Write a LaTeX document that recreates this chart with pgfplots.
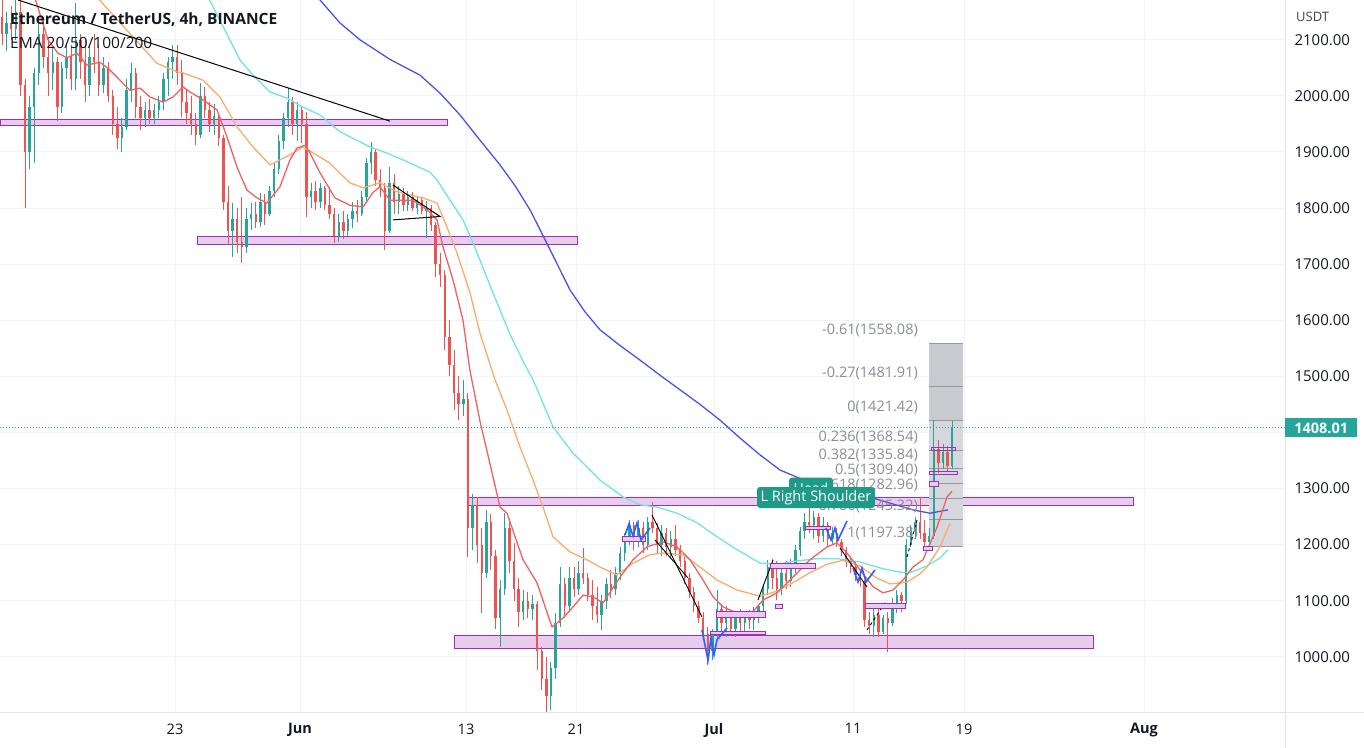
\documentclass[border=0pt]{standalone}
\usepackage{fontspec}
\setmainfont{Open Sans}
\usepackage{pgfplots}
\usepackage{pgfplotstable}
\pgfplotsset{compat=1.18}

\definecolor{tvup}{HTML}{26A69A}
\definecolor{tvdown}{HTML}{EF5350}
\definecolor{ema20}{HTML}{F0625F}
\definecolor{ema50}{HTML}{F7AC6B}
\definecolor{ema100}{HTML}{6EE3EC}
\definecolor{ema200}{HTML}{4E52E4}
\definecolor{zonefill}{HTML}{E8CCEE}
\definecolor{zoneline}{HTML}{A22DBB}
\definecolor{tvtext}{HTML}{131722}
\definecolor{fibtext}{HTML}{8A8D96}
\definecolor{fibline}{HTML}{9598A1}
\definecolor{tvgrid}{HTML}{F0F3FA}
\definecolor{tvaxis}{HTML}{E0E3EB}
\definecolor{tvblue}{HTML}{2962FF}
\definecolor{labelteal}{HTML}{1E9A87}

% 8h candles: i o h l c  (x on screen = 2 + 4.613 i)
\pgfplotstableread{
i o h l c
1 2110 2150 2080 2130
3 2120 2171 2100 2150
6 1900 2000 1870 1980
7 1980 2050 1880 2040
8 2040 2130 2020 2110
11 2040 2090 2010 2060
13 1980 2060 1970 2050
14 2050 2095 2030 2070
16 2030 2166 2010 2100
19 2020 2090 2000 2070
22 2020 2070 2005 2050
26 1925 1960 1900 1945
27 1945 2030 1940 2010
28 2010 2058 1990 2040
31 1960 1990 1945 1975
33 1960 1985 1950 1975
34 1975 2000 1960 1990
35 1990 2040 1975 2030
36 2030 2070 2000 2060
37 2060 2090 2030 2070
43 1930 2023 1925 2000
46 1950 1985 1930 1965
50 1760 1809 1713 1780
53 1730 1800 1720 1780
54 1780 1809 1761 1790
56 1775 1827 1766 1810
58 1790 1840 1785 1830
59 1830 1880 1820 1870
60 1870 1930 1860 1920
61 1920 1970 1905 1960
62 1960 2014 1945 1990
64 1950 1990 1920 1975
67 1820 1845 1800 1830
69 1810 1845 1800 1835
73 1750 1790 1740 1775
75 1760 1790 1750 1780
76 1780 1810 1765 1795
78 1790 1830 1785 1820
79 1820 1890 1810 1880
80 1880 1918 1860 1900
84 1760 1873 1755 1845
86 1810 1840 1790 1825
88 1805 1830 1795 1820
90 1800 1822 1790 1815
92 1795 1812 1747 1800
100 1450 1494 1430 1460
102 1230 1290 1190 1270
105 1150 1262 1140 1240
108 1070 1137 1018 1120
109 1120 1256 1110 1230
113 1080 1119 1066 1100
115 1085 1110 1066 1095
119 930 990 905 980
120 980 1078 960 1060
121 1060 1160 1053 1130
123 1090 1160 1080 1140
125 1120 1170 1110 1150
130 1075 1110 1048 1100
131 1100 1140 1085 1130
133 1120 1160 1110 1150
134 1150 1196 1137 1185
135 1185 1220 1170 1210
136 1210 1244 1200 1235
138 1205 1244 1195 1230
140 1200 1250 1190 1240
143 1200 1235 1180 1220
145 1195 1225 1175 1210
154 1010 1050 995 1040
155 1040 1119 1030 1085
157 1060 1090 1035 1075
159 1050 1080 1035 1070
161 1060 1080 1040 1075
163 1065 1089 1048 1080
164 1080 1095 1060 1090
165 1090 1130 1080 1120
166 1120 1173 1110 1160
169 1120 1165 1110 1150
171 1135 1175 1125 1165
172 1165 1200 1150 1190
173 1190 1232 1180 1225
174 1225 1256 1210 1240
176 1235 1260 1210 1250
178 1215 1250 1205 1235
180 1210 1232 1200 1220
189 1055 1089 1035 1075
191 1045 1075 1040 1070
193 1060 1105 1055 1095
194 1095 1119 1078 1110
196 1100 1210 1095 1200
197 1200 1235 1196 1225
198 1225 1249 1210 1240
201 1205 1230 1197 1215
202 1215 1422 1210 1370
204 1345 1380 1335 1365
206 1340 1421 1335 1408
}\upc

\pgfplotstableread{
i o h l c
0 2140 2171 2090 2110
2 2130 2160 2100 2120
4 2150 2171 2000 2020
5 2020 2030 1800 1900
9 2110 2135 2050 2070
10 2070 2100 2000 2040
12 2060 2070 1955 1980
15 2070 2090 2010 2030
17 2100 2110 2030 2060
18 2060 2100 1990 2020
20 2070 2110 2040 2060
21 2060 2090 2000 2020
23 2050 2060 1990 2000
24 2000 2010 1930 1950
25 1950 1980 1905 1925
29 2040 2050 1960 1980
30 1980 2000 1940 1960
32 1975 1995 1950 1960
38 2070 2091 2020 2040
39 2040 2064 1962 1990
40 1990 2010 1950 1970
41 1970 2000 1930 1950
42 1950 1970 1913 1930
44 2000 2015 1960 1975
45 1975 1990 1935 1950
47 1965 1970 1910 1925
48 1925 1930 1797 1810
49 1810 1840 1734 1760
51 1780 1800 1720 1740
52 1740 1820 1702 1730
55 1790 1810 1765 1775
57 1810 1825 1770 1790
63 1990 1998 1930 1950
65 1975 1980 1916 1950
66 1950 1971 1784 1820
68 1830 1848 1797 1810
70 1835 1840 1797 1805
71 1805 1838 1780 1790
72 1790 1800 1738 1750
74 1775 1795 1745 1760
77 1795 1815 1775 1790
81 1900 1905 1840 1850
82 1850 1870 1820 1835
83 1835 1845 1725 1760
85 1845 1860 1790 1810
87 1825 1835 1795 1805
89 1820 1828 1795 1800
91 1815 1820 1790 1795
93 1800 1805 1760 1770
94 1770 1775 1677 1700
95 1700 1720 1660 1680
96 1680 1690 1547 1570
97 1570 1600 1500 1520
98 1520 1547 1440 1470
99 1470 1500 1422 1450
101 1460 1470 1178 1230
103 1270 1285 1167 1200
104 1200 1230 1078 1150
106 1240 1255 1155 1180
107 1180 1190 1050 1070
110 1230 1240 1150 1170
111 1170 1203 1100 1120
112 1120 1140 1053 1080
114 1100 1115 1070 1085
116 1095 1100 977 1010
117 1010 1018 940 960
118 960 1000 880 930
122 1130 1140 1070 1090
124 1140 1160 1107 1120
126 1150 1194 1130 1140
127 1140 1150 1100 1110
128 1110 1137 1066 1090
129 1090 1125 1060 1075
132 1130 1155 1105 1120
137 1235 1240 1190 1205
139 1230 1240 1185 1200
141 1240 1276 1220 1230
142 1230 1239 1185 1200
144 1220 1230 1180 1195
146 1210 1235 1180 1190
147 1190 1200 1160 1170
148 1170 1180 1130 1140
149 1140 1150 1105 1115
150 1115 1125 1080 1090
151 1090 1100 1060 1070
152 1070 1080 1030 1040
153 1040 1053 985 1010
156 1085 1095 1040 1060
158 1075 1083 1040 1050
160 1070 1085 1045 1060
162 1075 1083 1050 1065
167 1160 1175 1120 1140
168 1140 1170 1101 1120
170 1150 1170 1120 1135
175 1240 1267 1220 1235
177 1250 1256 1203 1215
179 1235 1240 1196 1210
181 1220 1230 1196 1205
182 1205 1210 1180 1190
183 1190 1196 1160 1170
184 1170 1180 1150 1160
185 1160 1170 1135 1145
186 1145 1155 1125 1135
187 1135 1137 1053 1065
188 1065 1080 1040 1055
190 1075 1085 1035 1045
192 1070 1080 1009 1060
195 1110 1115 1080 1100
199 1240 1285 1210 1220
200 1220 1244 1190 1205
203 1370 1387 1328 1345
205 1365 1375 1330 1340
}\dnc

\pgfplotsset{
  candle/.style={only marks, mark=*, mark size=0pt, mark options={draw=none, fill=none}, forget plot,
    error bars/.cd, y dir=plus, y explicit, error mark=none,
    error bar style={line width=#1}},
}

\begin{document}
\begin{tikzpicture}[font=\fontsize{14bp}{16bp}\selectfont]
\useasboundingbox (0,-36bp) rectangle (1364bp,712bp);
\begin{axis}[
  at={(0,0)}, anchor=south west,
  scale only axis, width=1285bp, height=712bp,
  xmin=0, xmax=1285, ymin=901.6, ymax=2171,
  axis line style={draw=none},
  major tick length=0pt,
  grid=major, major grid style={draw=tvgrid, line width=1bp},
  ytick={1000,1100,...,2100},
  yticklabels={1000.00,1100.00,1200.00,1300.00,,1500.00,1600.00,1700.00,1800.00,1900.00,2000.00,2100.00},
  yticklabel pos=right,
  yticklabel style={anchor=west, xshift=6bp, text=tvtext,
    font=\fontsize{15bp}{17bp}\selectfont},
  xtick={175,300,466,576,714,853,964,1144},
  xticklabels={23,\textbf{Jun},13,21,\textbf{Jul},11,19,\textbf{Aug}},
  xticklabel style={yshift=-8bp, text=tvtext, font=\fontsize{14.5bp}{16bp}\selectfont},
]

% support / resistance zones
\draw[zoneline, fill=zonefill, line width=1bp] (axis cs:0,1946.4) rectangle (axis cs:447,1958.8);
\draw[zoneline, fill=zonefill, line width=1bp] (axis cs:197,1734.2) rectangle (axis cs:577,1748.5);
\draw[zoneline, fill=zonefill, line width=1bp] (axis cs:468,1268.9) rectangle (axis cs:1133,1284.9);
\draw[zoneline, fill=zonefill, line width=1bp] (axis cs:454,1015.7) rectangle (axis cs:1093,1037.1);

% fib box
\fill[fill={rgb,255:red,201;green,202;blue,208}] (axis cs:929,1421.42) rectangle (axis cs:963,1558.08);
\fill[fill={rgb,255:red,214;green,215;blue,220}] (axis cs:929,1197.38) rectangle (axis cs:963,1421.42);
\addplot[fibline, line width=1bp, forget plot] coordinates {(929,1558.08) (963,1558.08)};
\addplot[fibline, line width=1bp, forget plot] coordinates {(929,1481.91) (963,1481.91)};
\addplot[fibline, line width=1bp, forget plot] coordinates {(929,1421.42) (963,1421.42)};
\addplot[fibline, line width=1bp, forget plot] coordinates {(929,1368.54) (963,1368.54)};
\addplot[fibline, line width=1bp, forget plot] coordinates {(929,1335.84) (963,1335.84)};
\addplot[fibline, line width=1bp, forget plot] coordinates {(929,1309.40) (963,1309.40)};
\addplot[fibline, line width=1bp, forget plot] coordinates {(929,1282.96) (963,1282.96)};
\addplot[fibline, line width=1bp, forget plot] coordinates {(929,1245.32) (963,1245.32)};
\addplot[fibline, line width=1bp, forget plot] coordinates {(929,1197.38) (963,1197.38)};

% candles: wicks then bodies
\addplot[tvup, candle=1bp]
  table[x expr=2+4.613*\thisrow{i}, y=l, y error plus expr=\thisrow{h}-\thisrow{l}] {\upc};
\addplot[tvup, candle=2.4bp]
  table[x expr=2+4.613*\thisrow{i}, y=o, y error plus expr=\thisrow{c}-\thisrow{o}] {\upc};
\addplot[tvdown, candle=1bp]
  table[x expr=2+4.613*\thisrow{i}, y=l, y error plus expr=\thisrow{h}-\thisrow{l}] {\dnc};
\addplot[tvdown, candle=2.4bp]
  table[x expr=2+4.613*\thisrow{i}, y=c, y error plus expr=\thisrow{o}-\thisrow{c}] {\dnc};

% EMA 200
\addplot[ema200, line width=1.3bp, line join=round, forget plot] coordinates {
(318,2175) (340,2130) (360,2100) (390,2065) (420,2037) (440,2005) (460,1966)
(480,1921) (500,1877) (515,1840) (530,1797) (550,1726) (570,1654) (585,1615)
(600,1583) (620,1555) (640,1529) (660,1502) (680,1476) (700,1450) (720,1422)
(740,1390) (760,1360) (780,1333) (800,1318) (833,1301) (860,1290) (890,1274)
(913,1262) (930,1256) (948,1262)};
% EMA 100
\addplot[ema100, line width=1.3bp, line join=round, forget plot] coordinates {
(207,2180) (240,2064) (253,2037) (270,2007) (287,1996) (303,1980) (320,1966)
(340,1936) (350,1927) (370,1909) (387,1898) (403,1886) (430,1864) (437,1850)
(450,1814) (463,1779) (473,1738) (480,1707) (495,1640) (510,1575) (525,1520)
(533,1494) (553,1410) (573,1363) (593,1328) (600,1315) (623,1285) (640,1271)
(657,1267) (677,1256) (697,1239) (717,1214) (737,1191) (760,1167) (777,1165)
(793,1170) (817,1175) (837,1175) (860,1169) (883,1157) (900,1151) (910,1150)
(927,1162) (940,1176) (948,1191)};
% EMA 50
\addplot[ema50, line width=1.3bp, line join=round, forget plot] coordinates {
(95,2180) (133,2105) (157,2058) (177,2043) (183,2041) (203,2028) (220,1998)
(237,1945) (253,1909) (270,1877) (280,1886) (290,1895) (303,1909) (320,1891)
(330,1880) (340,1862) (350,1845) (363,1836) (380,1845) (397,1829) (423,1818)
(437,1809) (447,1766) (457,1720) (470,1649) (480,1577) (495,1494) (507,1440)
(520,1374) (533,1315) (543,1267) (553,1214) (570,1187) (587,1173) (600,1160)
(617,1146) (633,1167) (650,1182) (663,1185) (683,1182) (700,1160) (717,1137)
(737,1119) (760,1108) (777,1117) (793,1132) (810,1150) (827,1165) (843,1172)
(860,1162) (877,1140) (890,1130) (907,1133) (920,1148) (927,1160) (940,1196)
(950,1238)};
% EMA 20
\addplot[ema20, line width=1.3bp, line join=round, forget plot] coordinates {
(34,2180) (48,2100) (58,2076) (67,2068) (77,2076) (87,2055) (100,2060)
(110,2046) (120,2028) (130,2010) (140,2014) (150,1998) (163,1989) (173,1998)
(183,2016) (190,2007) (203,1993) (217,1975) (227,1927) (237,1873) (247,1832)
(257,1818) (267,1809) (280,1838) (290,1886) (297,1907) (305,1912) (310,1898)
(320,1863) (335,1818) (350,1805) (363,1802) (373,1828) (380,1838) (390,1814)
(413,1814) (427,1797) (437,1779) (443,1731) (453,1672) (463,1600) (470,1510)
(480,1420) (493,1321) (500,1267) (507,1256) (523,1173) (537,1132) (552,1053)
(563,1069) (573,1089) (583,1110) (593,1107) (603,1096) (620,1142) (633,1173)
(647,1196) (663,1205) (677,1196) (690,1173) (703,1137) (713,1107) (723,1089)
(737,1078) (750,1075) (763,1101) (777,1114) (793,1142) (810,1173) (827,1196)
(837,1203) (847,1185) (860,1155) (873,1125) (883,1114) (893,1119) (903,1137)
(913,1160) (923,1173) (937,1231) (947,1285) (952,1295)};

% trend lines
\addplot[black, line width=1bp, forget plot] coordinates {(18,2171) (390,1955)};
\addplot[black, line width=1bp, forget plot] coordinates {(393,1841) (440,1785) (393,1779)};
\addplot[black, line width=0.9bp, forget plot] coordinates {(652,1252.8) (702,1071)};
\addplot[black, line width=0.9bp, forget plot] coordinates {(655,1208.2) (688,1140.5)};
\addplot[black, line width=0.9bp, forget plot] coordinates {(758,1101.3) (773,1172.6)};
\addplot[black, line width=0.9bp, forget plot] coordinates {(840,1194) (867,1124.4)};
\addplot[black, line width=0.9bp, dashed, forget plot] coordinates {(867,1047.8) (887,1101.3)};
\addplot[black, line width=0.9bp, dashed, forget plot] coordinates {(907,1177.9) (917,1243.9)};

% small order boxes
\draw[zoneline, fill=zonefill, line width=1bp] (axis cs:622,1204.7) rectangle (axis cs:645,1213.6);
\draw[zoneline, fill=zonefill, line width=1bp] (axis cs:716,1069.2) rectangle (axis cs:765,1079.9);
\draw[zoneline, fill=zonefill, line width=1bp] (axis cs:710,1038.9) rectangle (axis cs:765,1046.0);
\draw[zoneline, fill=zonefill, line width=1bp] (axis cs:775,1087.0) rectangle (axis cs:782,1094.1);
\draw[zoneline, fill=zonefill, line width=1bp] (axis cs:770,1158.3) rectangle (axis cs:815,1165.5);
\draw[zoneline, fill=zonefill, line width=1bp] (axis cs:805,1226.1) rectangle (axis cs:830,1233.2);
\draw[zoneline, fill=zonefill, line width=1bp] (axis cs:865,1087.0) rectangle (axis cs:905,1095.9);
\draw[zoneline, fill=zonefill, line width=1bp] (axis cs:923,1190.4) rectangle (axis cs:932,1197.5);
\draw[zoneline, fill=zonefill, line width=1bp] (axis cs:929,1304.5) rectangle (axis cs:938,1313.4);
\draw[zoneline, line width=1bp] (axis cs:929,1325.9) rectangle (axis cs:957,1331.2);
\draw[zoneline, line width=1bp] (axis cs:931,1368.7) rectangle (axis cs:955,1374.0);

% blue arrows
\addplot[tvblue, line width=1.6bp, forget plot] coordinates {(625,1217.2) (629,1236.8) (633,1215.4) (637,1238.6) (641,1208.2) (650,1229.6)};
\addplot[tvblue, line width=1.6bp, forget plot] coordinates {(702,1047.8) (708,994.3) (711,1033.5) (714,1003.2) (717,1030) (727,1051.4)};
\addplot[tvblue, line width=1.6bp, forget plot] coordinates {(826,1229.6) (831,1208.2) (835,1229.6) (838,1208.2) (847,1242.1)};
\addplot[tvblue, line width=1.6bp, forget plot] coordinates {(853,1158.3) (858,1133.4) (862,1158.3) (866,1133.4) (875,1154.8)};

% current price line
\addplot[tvup, line width=1bp, dash pattern=on 1bp off 2bp, forget plot] coordinates {(0,1408.01) (1285,1408.01)};

% fib labels
\begin{scope}[every node/.style={anchor=east, text=fibtext, font=\fontsize{14.5bp}{16bp}\selectfont, yshift=13bp, inner sep=0pt}]
\node at (axis cs:918,1558.08) {-0.61(1558.08)};
\node at (axis cs:918,1481.91) {-0.27(1481.91)};
\node at (axis cs:918,1421.42) {0(1421.42)};
\node at (axis cs:918,1368.54) {0.236(1368.54)};
\node at (axis cs:918,1335.84) {0.382(1335.84)};
\node at (axis cs:918,1309.40) {0.5(1309.40)};
\node at (axis cs:918,1282.96) {0.618(1282.96)};
\node at (axis cs:918,1245.32) {0.786(1245.32)};
\node at (axis cs:918,1197.38) {1(1197.38)};
\end{scope}

% pattern labels
\node[fill=labelteal, text=white, rounded corners=3bp, minimum width=44bp, minimum height=22bp, inner sep=2bp,
  font=\fontsize{14bp}{16bp}\selectfont] at (axis cs:811,1300) {Head};
\node[fill=labelteal, text=white, rounded corners=3bp, minimum width=118bp, minimum height=21bp, inner sep=2bp,
  font=\fontsize{14.5bp}{16bp}\selectfont] at (axis cs:816,1284) {L Right Shoulder};
\end{axis}

% axis separators
\draw[tvaxis, line width=1bp] (1285bp,-36bp) -- (1285bp,712bp);
\draw[tvaxis, line width=1bp] (0,0) -- (1364bp,0);

% header
\node[anchor=west, inner sep=0pt, text=tvtext, font=\fontsize{15.5bp}{18bp}\selectfont\bfseries] at (10bp,692bp) {Ethereum / TetherUS, 4h, BINANCE};
\node[anchor=west, inner sep=0pt, text=tvtext, font=\fontsize{15.5bp}{18bp}\selectfont] at (10bp,669bp) {EMA 20/50/100/200};
\node[anchor=west, inner sep=0pt, text=tvtext!80, font=\fontsize{13bp}{15bp}\selectfont] at (1296bp,695bp) {USDT};

% last price tag
\node[anchor=west, fill=tvup, text=white, minimum width=72bp, minimum height=19bp, inner sep=0pt,
  font=\fontsize{14.5bp}{16bp}\selectfont\bfseries] at (1285bp,284bp) {1408.01};
\end{tikzpicture}
\end{document}
